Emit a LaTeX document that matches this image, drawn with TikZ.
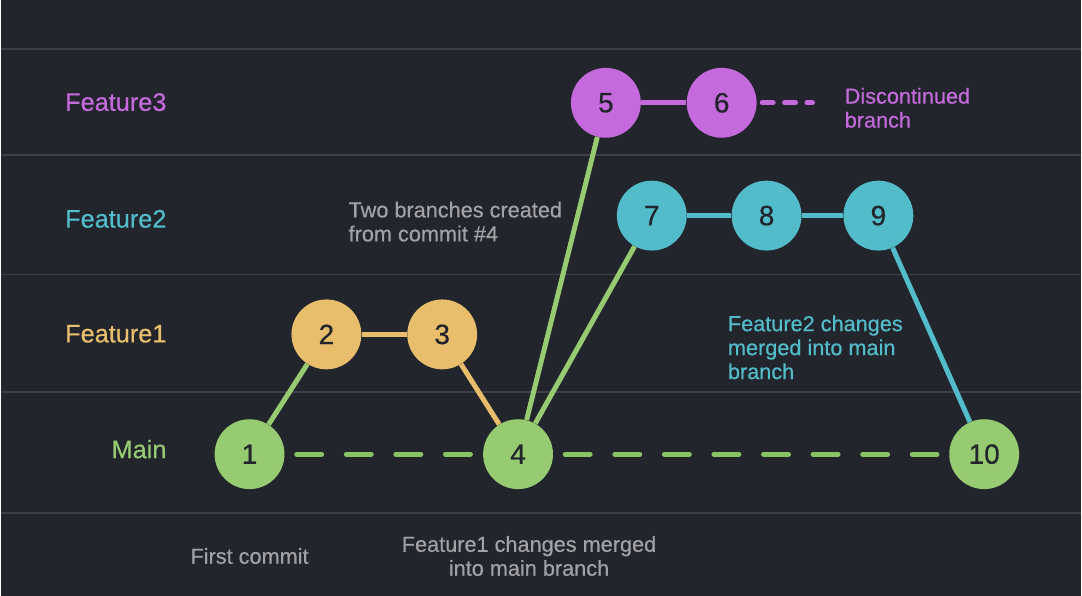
\documentclass[tikz,border=0pt]{standalone}
\usepackage{fontspec}
\setmainfont{Liberation Sans}[FakeBold=0.5]
\usetikzlibrary{positioning}
\definecolor{bgdark}{HTML}{22252C}
\definecolor{gridgray}{HTML}{3D4048}
\definecolor{maingreen}{HTML}{97CB72}
\definecolor{dashgreen}{HTML}{88C462}
\definecolor{featyellow}{HTML}{E8BE6C}
\definecolor{featteal}{HTML}{52BCCA}
\definecolor{featpurple}{HTML}{C56ADC}
\definecolor{notegray}{HTML}{A2A2A6}

\tikzset{
  commit/.style={circle, minimum size=52.5pt, inner sep=0pt, text=bgdark, font=\fontsize{21}{24}\selectfont},
  branchlabel/.style={anchor=base east, inner sep=0pt, font=\fontsize{19}{22}\selectfont},
  note/.style={align=left, inner sep=0pt, font=\fontsize{16.3}{18}\selectfont},
  link/.style={line width=3.75pt},
  mergeline/.style={line width=3.75pt, dashgreen, line cap=round, dash pattern=on 18.75pt off 18.5pt, shorten >=9pt, shorten <=9pt},
}

\begin{document}
\begin{tikzpicture}[x=0.75pt, y=-0.75pt]
    \fill[bgdark] (0,0) rectangle (1082,597);

    % Lanes
    \foreach \y in {49,155,275,393,514}
        \draw[gridgray, line width=1.5pt] (0,\y) -- (1082,\y);

    \node[branchlabel, featpurple] (lblf3) at (166,111) {Feature3};
    \node[branchlabel, featteal] (lblf2) at (166,228) {Feature2};
    \node[branchlabel, featyellow] (lblf1) at (166,343) {Feature1};
    \node[branchlabel, maingreen] (lblmain) at (166,459) {Main};

    % Commits
    \node[commit, fill=maingreen] (c1) at (249,455) {1};
    \node[commit, fill=featyellow] (c2) at (326,335) {2};
    \node[commit, fill=featyellow] (c3) at (442,335) {3};
    \node[commit, fill=maingreen] (c4) at (518,455) {4};
    \node[commit, fill=featpurple] (c5) at (606,103) {5};
    \node[commit, fill=featpurple] (c6) at (722,103) {6};
    \node[commit, fill=featteal] (c7) at (652,216) {7};
    \node[commit, fill=featteal] (c8) at (767,216) {8};
    \node[commit, fill=featteal] (c9) at (879,216) {9};
    \node[commit, fill=maingreen] (c10) at (985,455) {10};
    \coordinate (c6end) at (813,103);

    % Main branch
    \draw[mergeline] (c1) -- (c4);
    \draw[mergeline] (c4) -- (c10);

    % Feature1
    \draw[link, maingreen] (c1) -- (c2);
    \draw[link, featyellow] (c2) -- (c3);
    \draw[link, featyellow] (c3) -- (c4);

    % Feature2 and Feature3 from commit 4
    \draw[link, maingreen] (c4) -- (c5);
    \draw[link, maingreen] (c4) -- (c7);
    \draw[link, featpurple] (c5) -- (c6);
    \draw[link, featpurple, line cap=round, dash pattern=on 8.25pt off 8.55pt, shorten <=4pt] (c6) -- (c6end);
    \draw[link, featteal] (c7) -- (c8);
    \draw[link, featteal] (c8) -- (c9);
    \draw[link, featteal] (c9) -- (c10);

    % Notes
    \node[note, notegray, anchor=west] (notebranches) at (348,222) {Two branches created\\from commit \#4};
    \node[note, featpurple, anchor=west] (notediscont) at (845,108) {Discontinued\\branch};
    \node[note, featteal, anchor=west] (notemerge2) at (728,348) {Feature2 changes\\merged into main\\branch};
    \node[note, notegray] (notefirst) at (249,557) {First commit};
    \node[note, notegray, align=center] (notemerge1) at (529,557) {Feature1 changes merged\\into main branch};
\end{tikzpicture}
\end{document}
